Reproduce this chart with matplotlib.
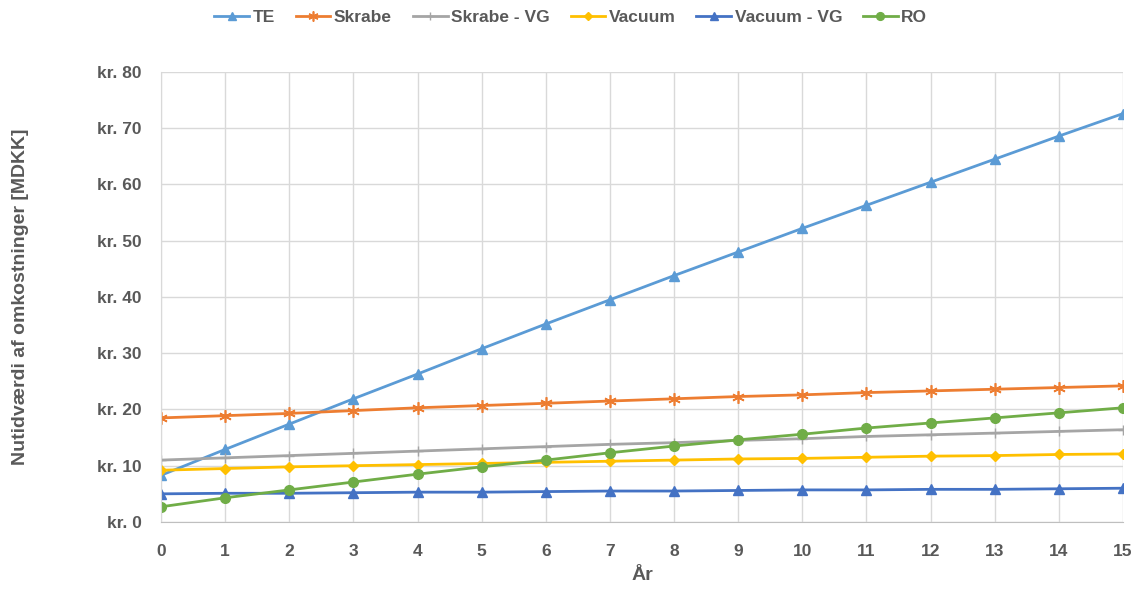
import matplotlib.pyplot as plt

# data
aar = list(range(16))
te = [8.3, 12.9, 17.4, 21.9, 26.3, 30.8, 35.2, 39.5, 43.8, 48.0, 52.2, 56.3, 60.4, 64.5, 68.6, 72.6]
skrabe = [18.5, 18.9, 19.3, 19.8, 20.3, 20.7, 21.1, 21.5, 21.9, 22.3, 22.6, 23.0, 23.3, 23.6, 23.9, 24.2]
skrabe_vg = [11.0, 11.4, 11.8, 12.2, 12.6, 13.0, 13.4, 13.8, 14.1, 14.5, 14.8, 15.2, 15.5, 15.8, 16.1, 16.4]
vacuum = [9.2, 9.5, 9.8, 10.0, 10.2, 10.4, 10.6, 10.8, 11.0, 11.2, 11.3, 11.5, 11.7, 11.8, 12.0, 12.1]
vacuum_vg = [5.0, 5.1, 5.1, 5.2, 5.3, 5.3, 5.4, 5.5, 5.5, 5.6, 5.7, 5.7, 5.8, 5.8, 5.9, 6.0]
ro = [2.7, 4.3, 5.7, 7.1, 8.5, 9.8, 11.0, 12.3, 13.5, 14.6, 15.6, 16.7, 17.6, 18.5, 19.4, 20.3]
yticks = [0, 10, 20, 30, 40, 50, 60, 70, 80]

plt.rcParams['font.family'] = ['Liberation Sans', 'DejaVu Sans']
grå = '#595959'

fig = plt.figure(figsize=(11.35, 5.89), dpi=100)
ax = fig.add_axes([0.1419, 0.1138, 0.8475, 0.764])

ax.plot(aar, te, color='#5B9BD5', lw=2, marker='^', ms=7, label='TE')
ax.plot(aar, skrabe, color='#ED7D31', lw=2, marker=(6, 2, 0), ms=9, mew=1.2, label='Skrabe')
ax.plot(aar, skrabe_vg, color='#A5A5A5', lw=2, marker='+', ms=7, mew=1, label='Skrabe - VG')
ax.plot(aar, vacuum, color='#FFC000', lw=2, marker='D', ms=5, label='Vacuum')
ax.plot(aar, vacuum_vg, color='#4472C4', lw=2, marker='^', ms=7, label='Vacuum - VG')
ax.plot(aar, ro, color='#70AD47', lw=2, marker='o', ms=7, label='RO')

ax.set_xlim(0, 15)
ax.set_ylim(0, 80)
ax.set_xticks(aar)
ax.set_yticks(yticks)
ax.set_yticklabels(['kr. %d' % v for v in yticks])
ax.grid(True, color='#D9D9D9', lw=1)
ax.set_axisbelow(True)
for s in ['top', 'right']:
    ax.spines[s].set_visible(False)
ax.spines['left'].set_color('#D9D9D9')
ax.spines['bottom'].set_color('#BFBFBF')
ax.tick_params(axis='y', length=0, labelsize=12.5, labelcolor=grå, pad=14)
ax.tick_params(axis='x', length=0, labelsize=12.5, labelcolor=grå, pad=16)
for t in ax.get_xticklabels() + ax.get_yticklabels():
    t.set_fontweight('bold')

ax.set_xlabel('År', fontsize=14, fontweight='bold', color=grå)
ax.set_ylabel('Nutidværdi af omkostninger [MDKK]', fontsize=14, fontweight='bold', color=grå)
ax.yaxis.set_label_coords(-0.137, 0.5)
ax.xaxis.set_label_coords(0.5, -0.10)

leg = fig.legend(loc='upper center', bbox_to_anchor=(0.503, 1.01), ncol=6, frameon=False,
                 fontsize=12.5, handlelength=2.0, columnspacing=1.2, handletextpad=0.2,
                 markerscale=0.8)
for t in leg.get_texts():
    t.set_color(grå)
    t.set_fontweight('bold')

fig.savefig('out.png', dpi=100)
